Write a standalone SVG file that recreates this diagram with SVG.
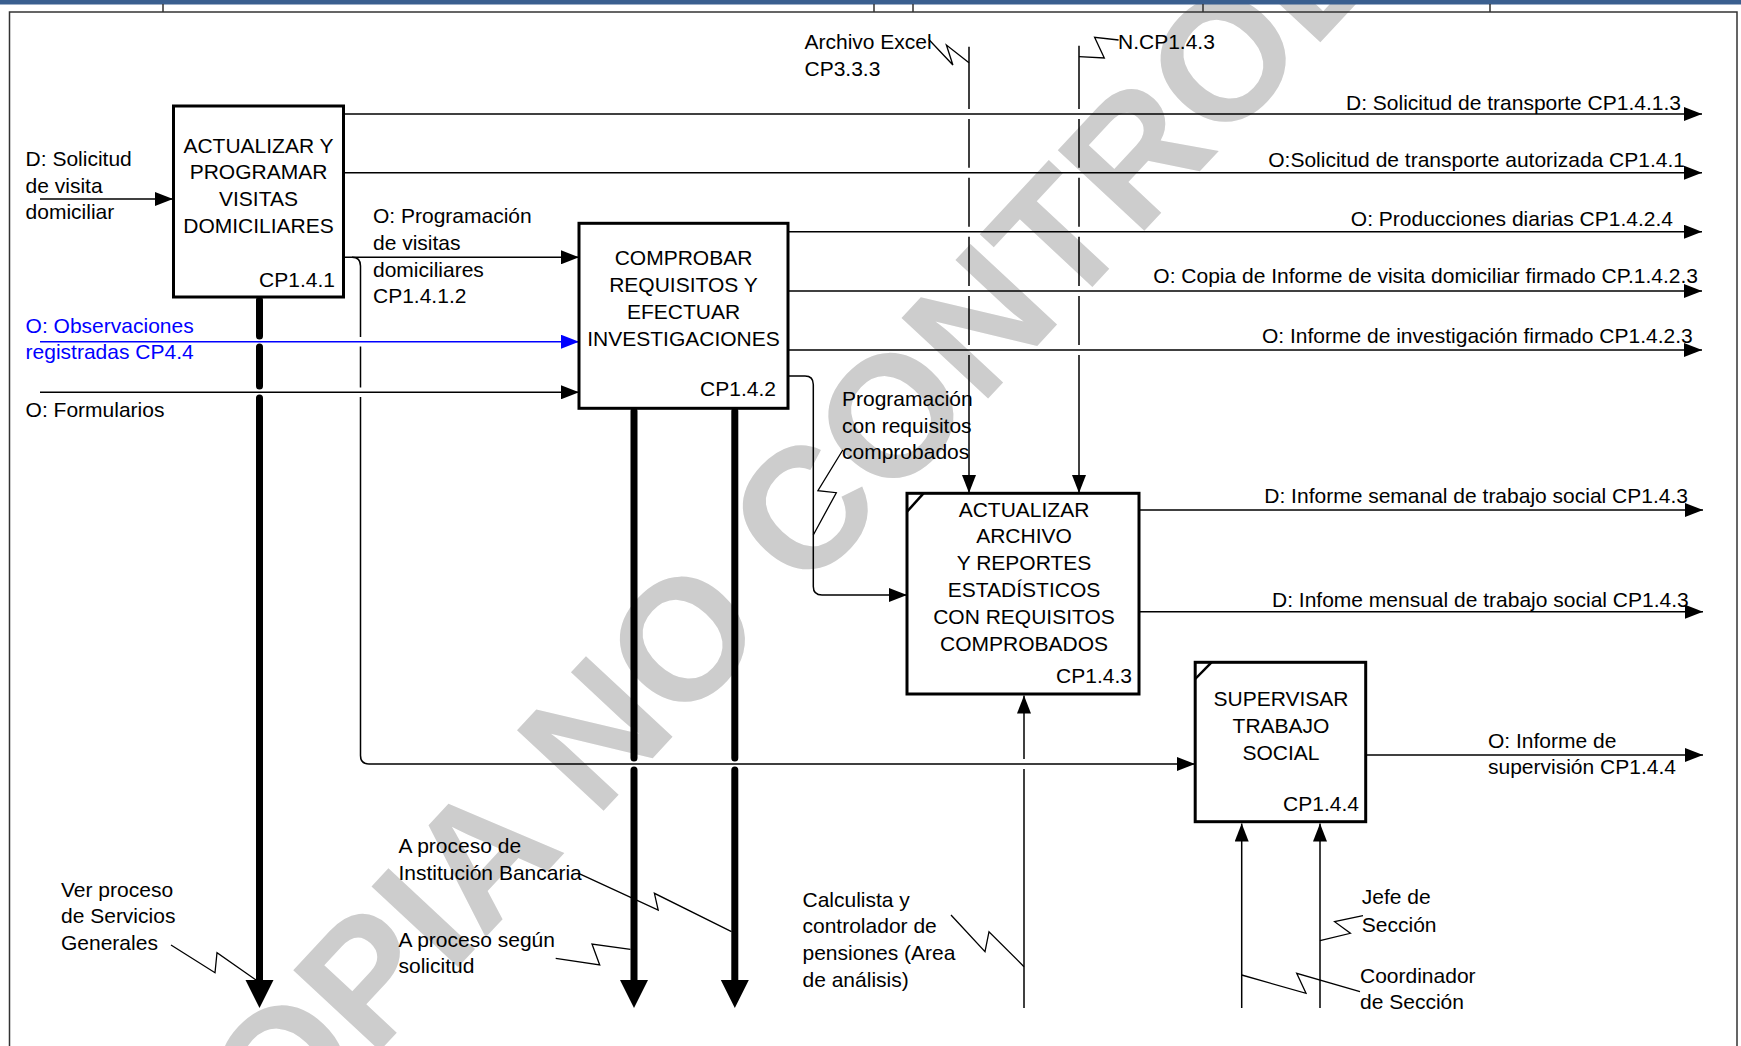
<svg xmlns="http://www.w3.org/2000/svg" width="1741" height="1046" viewBox="0 0 1741 1046">
<defs>
<style>
text { font-family: "Liberation Sans", Arial, sans-serif; font-size: 21px; fill: #000; }
.c { text-anchor: middle; }
.e { text-anchor: end; }
.bt { fill: #0000ff; }
.box { fill: none; stroke: #000; stroke-width: 3; }
.notch { fill: none; stroke: #000; stroke-width: 2.5; }
.ln { fill: none; stroke: #000; stroke-width: 1.5; }
.blue { fill: none; stroke: #0000ff; stroke-width: 1.5; }
.thick { fill: none; stroke: #000; stroke-width: 7; stroke-linecap: round; }
.sq { fill: none; stroke: #000; stroke-width: 1.3; }
.head { fill: #000; }
.frame { fill: none; stroke: #333; stroke-width: 1.5; }
.wm { font-family: "Liberation Sans", Arial, sans-serif; font-size: 172px; font-weight: bold; fill: #cdcdcd; }
</style>
<marker id="ah" viewBox="0 0 18 14" refX="18" refY="7" markerWidth="18" markerHeight="14" markerUnits="userSpaceOnUse" orient="auto"><path d="M0,0 L18,7 L0,14 Z" fill="#000"/></marker>
<marker id="ahb" viewBox="0 0 18 14" refX="18" refY="7" markerWidth="18" markerHeight="14" markerUnits="userSpaceOnUse" orient="auto"><path d="M0,0 L18,7 L0,14 Z" fill="#0000ff"/></marker>
</defs>
<rect x="0" y="0" width="1741" height="1046" fill="#fff"/>
<g id="watermark">
<text class="wm" transform="translate(196,1248) rotate(-47)">COPIA NO CONTROLADA</text>
</g>
<g id="frame">
<rect x="0" y="0" width="1741" height="4.5" fill="#3a5f8f"/>
<path class="frame" d="M9.5,1046 V12 H1737 V1046"/>
<path class="frame" d="M163,4 V12 M874,4 V12 M913,4 V12 M1203,4 V12 M1490,4 V12"/>
</g>
<g id="connectors">
<path class="ln" d="M40,199 H173" marker-end="url(#ah)"/>
<path class="blue" d="M40,341.7 H579" marker-end="url(#ahb)"/>
<path class="ln" d="M40,392.3 H579" marker-end="url(#ah)"/>
<path class="ln" d="M344,257.3 H579" marker-end="url(#ah)"/>
<path class="ln" d="M352,257.3 Q360.5,257.3 360.5,266 V337"/>
<path class="ln" d="M360.5,346.5 V387.5"/>
<path class="ln" d="M360.5,397 V755.5 Q360.5,764 369,764 H1195" marker-end="url(#ah)"/>
<path class="ln" d="M344,114 H1702" marker-end="url(#ah)"/>
<path class="ln" d="M344,172.7 H1702" marker-end="url(#ah)"/>
<path class="ln" d="M788,231.7 H1702" marker-end="url(#ah)"/>
<path class="ln" d="M788,291 H1702" marker-end="url(#ah)"/>
<path class="ln" d="M788,350 H1702" marker-end="url(#ah)"/>
<path class="ln" d="M788,376 H805 Q813.3,376 813.3,384.5 V586.5 Q813.3,595 822,595 H907" marker-end="url(#ah)"/>
<path class="ln" d="M1139,510 H1703" marker-end="url(#ah)"/>
<path class="ln" d="M1139,611.7 H1703" marker-end="url(#ah)"/>
<path class="ln" d="M1366,755 H1703" marker-end="url(#ah)"/>
<path class="ln" d="M969,46.7 V109 M969,119 V167.7 M969,177.7 V226.7 M969,236.7 V286 M969,296 V345"/>
<path class="ln" d="M969,355 V493" marker-end="url(#ah)"/>
<path class="ln" d="M1079,45.7 V109 M1079,119 V167.7 M1079,177.7 V226.7 M1079,236.7 V286 M1079,296 V345"/>
<path class="ln" d="M1079,355 V493" marker-end="url(#ah)"/>
<path class="ln" d="M1024,1008 V769"/>
<path class="ln" d="M1024,759 V695.5" marker-end="url(#ah)"/>
<path class="ln" d="M1241.7,1008 V823.5" marker-end="url(#ah)"/>
<path class="ln" d="M1320,1008 V823.5" marker-end="url(#ah)"/>
<path class="thick" d="M259.5,300 V336 M259.5,347 V386 M259.5,398 V984"/>
<polygon class="head" points="245.5,980 273.5,980 259.5,1008"/>
<path class="thick" d="M634,411 V758 M634,770 V984"/>
<polygon class="head" points="620,980 648,980 634,1008"/>
<path class="thick" d="M734.8,411 V758 M734.8,770 V984"/>
<polygon class="head" points="720.8,980 748.8,980 734.8,1008"/>
<polyline class="sq" points="928.6,39.3 952.9,65 946.4,45 969,62.7"/>
<polyline class="sq" points="1079,56.7 1104.3,58 1094.6,37.3 1118.6,40"/>
<polyline class="sq" points="842.8,450 817.9,490.7 836.3,492.7 813.3,535"/>
<polyline class="sq" points="171,945 215,972.7 217,952.7 256,980"/>
<polyline class="sq" points="578.6,873.3 658.2,910 654.4,893.3 731.5,931.7"/>
<polyline class="sq" points="555.7,958.3 599.7,965 592,944 630.5,949.3"/>
<polyline class="sq" points="951,915 985,951.7 989,931.7 1024,966.7"/>
<polyline class="sq" points="1320,940.7 1350.4,933.3 1334.6,921.7 1363,915.7"/>
<polyline class="sq" points="1241.7,975 1306,993.3 1296.7,973.3 1360,991.7"/>
</g>
<g id="node-cp141">
<rect class="box" x="173.5" y="106" width="170" height="191"/>
<text class="c" x="258.5" y="152.7">ACTUALIZAR Y</text>
<text class="c" x="258.5" y="179.3">PROGRAMAR</text>
<text class="c" x="258.5" y="206">VISITAS</text>
<text class="c" x="258.5" y="232.7">DOMICILIARES</text>
<text class="e" x="335" y="287">CP1.4.1</text>
</g>
<g id="node-cp142">
<rect class="box" x="579" y="223.3" width="209" height="185"/>
<text class="c" x="683.5" y="265">COMPROBAR</text>
<text class="c" x="683.5" y="292">REQUISITOS Y</text>
<text class="c" x="683.5" y="319">EFECTUAR</text>
<text class="c" x="683.5" y="346">INVESTIGACIONES</text>
<text class="e" x="776" y="396">CP1.4.2</text>
</g>
<g id="node-cp143">
<rect class="box" x="907" y="493.3" width="232" height="200.7"/>
<path class="notch" d="M907,511.7 L923.5,493.3"/>
<text class="c" x="1024" y="516.7">ACTUALIZAR</text>
<text class="c" x="1024" y="543.3">ARCHIVO</text>
<text class="c" x="1024" y="570">Y REPORTES</text>
<text class="c" x="1024" y="597.3">ESTADÍSTICOS</text>
<text class="c" x="1024" y="624">CON REQUISITOS</text>
<text class="c" x="1024" y="651">COMPROBADOS</text>
<text class="e" x="1132" y="683.3">CP1.4.3</text>
</g>
<g id="node-cp144">
<rect class="box" x="1195.2" y="662.3" width="170.5" height="159.4"/>
<path class="notch" d="M1195.2,679 L1211.5,662.3"/>
<text class="c" x="1281" y="706">SUPERVISAR</text>
<text class="c" x="1281" y="733.3">TRABAJO</text>
<text class="c" x="1281" y="760">SOCIAL</text>
<text class="e" x="1359" y="811">CP1.4.4</text>
</g>
<g id="labels">
<text x="25.6" y="166">D: Solicitud</text>
<text x="25.6" y="192.7">de visita</text>
<text x="25.6" y="219.3">domiciliar</text>
<text x="373" y="222.7">O: Programación</text>
<text x="373" y="250">de visitas</text>
<text x="373" y="276.7">domiciliares</text>
<text x="373" y="303.3">CP1.4.1.2</text>
<text class="bt" x="25.6" y="332.7">O: Observaciones</text>
<text class="bt" x="25.6" y="359.3">registradas CP4.4</text>
<text x="25.6" y="416.7">O: Formularios</text>
<text x="804.5" y="49">Archivo Excel</text>
<text x="804.5" y="76">CP3.3.3</text>
<text x="1118" y="49">N.CP1.4.3</text>
<text class="e" x="1681" y="110">D: Solicitud de transporte CP1.4.1.3</text>
<text class="e" x="1685" y="166.7">O:Solicitud de transporte autorizada CP1.4.1</text>
<text class="e" x="1673" y="226">O: Producciones diarias CP1.4.2.4</text>
<text class="e" x="1698" y="283.3">O: Copia de Informe de visita domiciliar firmado CP.1.4.2.3</text>
<text class="e" x="1692.7" y="343.3">O: Informe de investigación firmado CP1.4.2.3</text>
<text x="842" y="405.5">Programación</text>
<text x="842" y="432.7">con requisitos</text>
<text x="842" y="459.3">comprobados</text>
<text class="e" x="1688" y="503.3">D: Informe semanal de trabajo social CP1.4.3</text>
<text class="e" x="1688.7" y="606.7">D: Infome mensual de trabajo social CP1.4.3</text>
<text x="1488" y="748.3">O: Informe de</text>
<text x="1488" y="774">supervisión CP1.4.4</text>
<text x="61" y="896.7">Ver proceso</text>
<text x="61" y="923.3">de Servicios</text>
<text x="61" y="950">Generales</text>
<text x="398.5" y="853">A proceso de</text>
<text x="398.5" y="880">Institución Bancaria</text>
<text x="398.5" y="946.5">A proceso según</text>
<text x="398.5" y="972.5">solicitud</text>
<text x="802.5" y="906.7">Calculista y</text>
<text x="802.5" y="933.3">controlador de</text>
<text x="802.5" y="960">pensiones (Area</text>
<text x="802.5" y="986.7">de análisis)</text>
<text x="1361.8" y="904.3">Jefe de</text>
<text x="1361.8" y="931.7">Sección</text>
<text x="1360" y="983.3">Coordinador</text>
<text x="1360" y="1009.3">de Sección</text>
</g>
</svg>
